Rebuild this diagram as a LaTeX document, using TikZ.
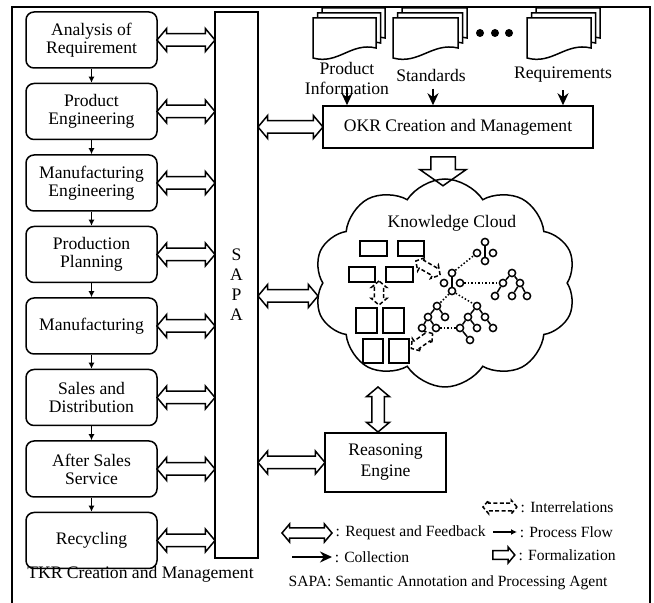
\documentclass[tikz,border=0pt]{standalone}
\usepackage{fontspec}
\setmainfont{Liberation Serif}
\usetikzlibrary{arrows.meta,calc,positioning,shapes.arrows,shapes.symbols}
\tikzset{%
	stage/.style     = {draw, rounded corners=4pt, minimum width=65.5pt, minimum height=28pt, align=center, font=\fontsize{8.8}{9}\selectfont}, % TKR stage
	block/.style     = {draw, rectangle, align=center}, % OKR, reasoning
	rfarrow/.style   = {draw, double arrow, double arrow head extend=2.6pt, double arrow tip angle=100, inner xsep=0pt, inner ysep=2.75pt}, % request and feedback
	relarrow/.style  = {draw, dashed, dash pattern=on 2pt off 1.2pt, double arrow, double arrow head extend=1.6pt, double arrow tip angle=100, inner xsep=0pt, inner ysep=1.9pt}, % interrelation
	formarrow/.style = {draw, single arrow, single arrow head extend=5.5pt, single arrow tip angle=110, inner xsep=0pt, inner ysep=5.75pt}, % formalization
	flowarrow/.style = {-{Latex[length=3pt,width=3pt]}}, % process flow
	collarrow/.style = {line width=1pt, -{Stealth[length=6pt,width=5.5pt]}}, % collection
	treenode/.style  = {draw, circle, fill=white, inner sep=0pt, minimum size=3.6pt}, % tree node
	kdoc/.style      = {draw, line width=1pt}, % document in cloud
	dotlink/.style   = {densely dotted},
	docpage/.style   = {draw, fill=white},
	legend/.style    = {inner sep=1pt, font=\fontsize{7.8}{9}\selectfont},
}
% one page of a document stack, top left corner #1,#2, width #3
\newcommand{\docpage}[3]{%
	\draw[docpage] (#1,#2) -- ({#1+#3},#2) -- ({#1+#3},{#2+30})
		.. controls ({#1+0.6*#3},{#2+24}) and ({#1+0.4*#3},{#2+47}) .. (#1,{#2+40}) -- cycle;}
\begin{document}
\begin{tikzpicture}[x=0.5pt, y=-0.5pt, line width=0.75pt, font=\fontsize{8.8}{10}\selectfont]
	\useasboundingbox (0,0) rectangle (654,603);
	\draw (12,603) -- (12,7) -- (650,7) -- (650,603);
	
	% TKR creation and management
	\node[stage] (b1) at (91.5,40) {Analysis of\\Requirement};
	\node[stage, below=7pt of b1] (b2) {Product\\Engineering};
	\node[stage, below=7pt of b2] (b3) {Manufacturing\\Engineering};
	\node[stage, below=7pt of b3] (b4) {Production\\Planning};
	\node[stage, below=7pt of b4] (b5) {Manufacturing};
	\node[stage, below=7pt of b5] (b6) {Sales and\\Distribution};
	\node[stage, below=7pt of b6] (b7) {After Sales\\Service};
	\node[stage, below=7pt of b7] (b8) {Recycling};
	\node (tkr) at (140.5,574) {TKR Creation and Management};
	\draw[flowarrow] (b1) -- (b2);
	\draw[flowarrow] (b2) -- (b3);
	\draw[flowarrow] (b3) -- (b4);
	\draw[flowarrow] (b4) -- (b5);
	\draw[flowarrow] (b5) -- (b6);
	\draw[flowarrow] (b6) -- (b7);
	\draw[flowarrow] (b7) -- (b8);
	
	% SAPA
	\node[draw, minimum width=21.5pt, minimum height=273pt, inner sep=0pt, align=center] (sapa) at (236.5,285) {S\\A\\P\\A};
	\node[rfarrow, minimum height=29pt] at ($(b1.east)!0.5!(b1.east -| sapa.west)$) {};
	\node[rfarrow, minimum height=29pt] at ($(b2.east)!0.5!(b2.east -| sapa.west)$) {};
	\node[rfarrow, minimum height=29pt] at ($(b3.east)!0.5!(b3.east -| sapa.west)$) {};
	\node[rfarrow, minimum height=29pt] at ($(b4.east)!0.5!(b4.east -| sapa.west)$) {};
	\node[rfarrow, minimum height=29pt] at ($(b5.east)!0.5!(b5.east -| sapa.west)$) {};
	\node[rfarrow, minimum height=29pt] at ($(b6.east)!0.5!(b6.east -| sapa.west)$) {};
	\node[rfarrow, minimum height=29pt] at ($(b7.east)!0.5!(b7.east -| sapa.west)$) {};
	\node[rfarrow, minimum height=29pt] at ($(b8.east)!0.5!(b8.east -| sapa.west)$) {};
	
	% OKR creation and management
	\foreach \x/\w in {313/63, 393/65, 527/64} {
		\docpage{\x+9}{8}{\w}
		\docpage{\x+4.5}{13}{\w}
		\docpage{\x}{18}{\w}
	}
	\fill (480,33) circle (2pt) (495,33) circle (2pt) (509,33) circle (2pt);
	\node[align=center] (pinfo) at (347,78) {Product\\Information};
	\node (std) at (431,75) {Standards};
	\node (req) at (563,75) {Requirements};
	\node[block, minimum width=135pt, minimum height=21pt] (okr) at (458,127) {OKR Creation and Management};
	\draw[collarrow] ([yshift=-5pt]pinfo.center) -- (pinfo.center |- okr.north);
	\draw[collarrow] ([xshift=1pt]std.south) -- ([xshift=1pt]std.south |- okr.north);
	\draw[collarrow] (req.south) -- (req.south |- okr.north);
	\node[rfarrow, minimum height=32.5pt] at ($(sapa.east |- okr.west)!0.5!(okr.west)$) {};
	
	% knowledge cloud
	\node[draw, cloud, cloud puffs=10, cloud puff arc=115, aspect=1.22, minimum width=131pt, minimum height=104pt, inner sep=0pt] (kc) at (445,283) {};
	\node[formarrow, minimum height=14.5pt, rotate=-90] at (443,167) {};
	\node (kclabel) at (452,223) {Knowledge Cloud};
	\node[rfarrow, minimum height=30pt] at (288,296) {};
	\draw[kdoc] (360,241) rectangle (387,256);
	\draw[kdoc] (398,241) rectangle (424,256);
	\draw[kdoc] (349,267) rectangle (375,282);
	\draw[kdoc] (386,267) rectangle (413,282);
	\draw[kdoc] (356,308) rectangle (377,333);
	\draw[kdoc] (383,308) rectangle (404,333);
	\draw[kdoc] (363,339) rectangle (383,363);
	\draw[kdoc] (389,339) rectangle (409,363);
	\node[relarrow, minimum height=14pt, rotate=-30] at (428,268) {};
	\node[relarrow, minimum height=12pt, rotate=90] at (379,293) {};
	\node[relarrow, minimum height=13pt, rotate=35] at (422,341) {};
	
	\node[treenode] (t0a) at (452,273) {};
	\node[treenode] (t0b) at (444,283) {};
	\node[treenode] (t0c) at (460,283) {};
	\node[treenode] (t0d) at (452,291) {};
	\draw (t0a) -- (t0d);
	\node[treenode] (t1a) at (485,242) {};
	\node[treenode] (t1b) at (477,253) {};
	\node[treenode] (t1c) at (493,253) {};
	\node[treenode] (t1d) at (485,261) {};
	\draw (t1a) -- (t1d);
	\node[treenode] (t2a) at (512,273) {};
	\node[treenode] (t2b) at (503,283) {};
	\node[treenode] (t2c) at (520,283) {};
	\node[treenode] (t2d) at (495,296) {};
	\node[treenode] (t2e) at (512,296) {};
	\node[treenode] (t2f) at (527,296) {};
	\draw (t2a) -- (t2b) (t2a) -- (t2c) (t2b) -- (t2d) (t2c) -- (t2e) (t2c) -- (t2f);
	\node[treenode] (t3a) at (437,306) {};
	\node[treenode] (t3b) at (428,317) {};
	\node[treenode] (t3c) at (445,317) {};
	\node[treenode] (t3d) at (422,328) {};
	\node[treenode] (t3e) at (436,328) {};
	\draw (t3a) -- (t3b) (t3a) -- (t3c) (t3b) -- (t3d) (t3b) -- (t3e);
	\node[treenode] (t4a) at (477,306) {};
	\node[treenode] (t4b) at (468,317) {};
	\node[treenode] (t4c) at (485,317) {};
	\node[treenode] (t4d) at (460,328) {};
	\node[treenode] (t4e) at (477,328) {};
	\node[treenode] (t4f) at (493,328) {};
	\node[treenode] (t4g) at (470,340) {};
	\draw (t4a) -- (t4b) (t4a) -- (t4c) (t4b) -- (t4d) (t4b) -- (t4e) (t4c) -- (t4f) (t4d) -- (t4g);
	\draw[dotlink] (t0c) -- (t2b);
	\draw[dotlink] (t0a) -- (t1b);
	\draw[dotlink] (t0d) -- (t3a);
	\draw[dotlink] (t0d) -- (t4a);
	\draw[dotlink] (t3e) -- (t4d);
	
	% reasoning engine
	\node[block, minimum width=60.5pt, minimum height=29.5pt, font=\fontsize{8.8}{10.5}\selectfont] (re) at (385.5,462.5) {Reasoning\\Engine};
	\node[rfarrow, minimum height=33.5pt] at ($(sapa.east |- re.west)!0.5!(re.west)$) {};
	\node[rfarrow, minimum height=22.5pt, rotate=90] at (378,409.5) {};
	
	% legend
	\node[relarrow, minimum height=17pt, inner ysep=1.6pt, double arrow head extend=1.4pt] (lrel) at (500,507) {};
	\node[legend, right=0pt of lrel] {: Interrelations};
	\node[rfarrow, minimum height=25pt, inner ysep=2.2pt, double arrow head extend=2pt] (lrf) at (307,533) {};
	\node[legend, right=0pt of lrf] {: Request and Feedback};
	\coordinate (lpf0) at (493,532);
	\coordinate (lpf1) at (517,532);
	\draw[flowarrow] (lpf0) -- (lpf1);
	\node[legend, right=0pt of lpf1] {: Process Flow};
	\coordinate (lcl0) at (292,557);
	\coordinate (lcl1) at (332,557);
	\draw[collarrow] (lcl0) -- (lcl1);
	\node[legend, right=0pt of lcl1] {: Collection};
	\node[formarrow, minimum height=11pt, inner ysep=1.8pt, single arrow head extend=1.8pt, single arrow tip angle=100] (lfm) at (502,555) {};
	\node[legend, right=0pt of lfm] {: Formalization};
	\node[legend] (sapalegend) at (448,583) {SAPA: Semantic Annotation and Processing Agent};
\end{tikzpicture}
\end{document}
